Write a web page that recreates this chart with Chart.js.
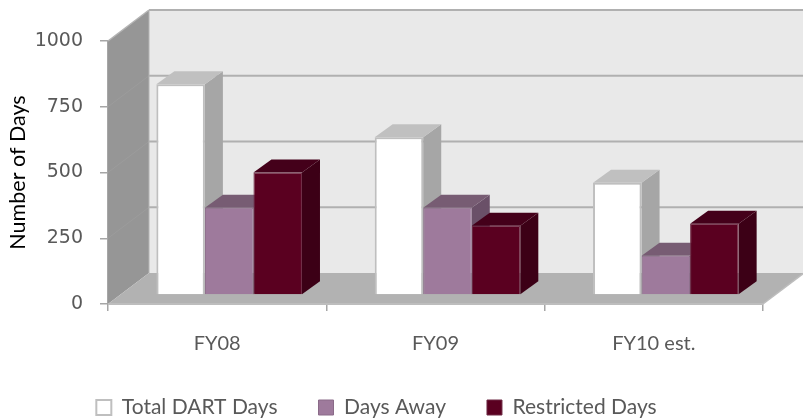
<!DOCTYPE html>
<html>
<head>
<meta charset="utf-8">
<style>
  html, body { margin: 0; padding: 0; background: #fff; }
  #wrap { width: 803px; height: 418px; }
</style>
<script src="https://cdn.jsdelivr.net/npm/chart.js@4/dist/chart.umd.min.js"></script>
</head>
<body>
<div id="wrap"><canvas id="myChart"></canvas></div>
<script>
const categories = ["FY08", "FY09", "FY10 est."];
const totalDart = [801, 600, 427];
const daysAway = [332, 332, 149];
const restricted = [466, 263, 271];
const yTicks = [0, 250, 500, 750, 1000];

// fake 3D: how far the walls go back, and where the bars stand on the floor
const wallDx = 41, wallDy = -31;
const barDx = 12, barDy = -9;
const depthDx = 18, depthDy = -13;

const sideColors = ["#a6a6a6", "#6a5068", "#3c0016"];
const topColors = ["#c0c0c0", "#775c73", "#44001a"];

function poly(ctx, pts, fill) {
  ctx.beginPath();
  pts.forEach((p, i) => i ? ctx.lineTo(p[0], p[1]) : ctx.moveTo(p[0], p[1]));
  ctx.closePath();
  ctx.fillStyle = fill;
  ctx.fill();
}

function line(ctx, x1, y1, x2, y2, color, w) {
  ctx.beginPath();
  ctx.moveTo(x1, y1);
  ctx.lineTo(x2, y2);
  ctx.strokeStyle = color;
  ctx.lineWidth = w;
  ctx.stroke();
}

const walls = {
  id: "walls",
  afterLayout(chart) {
    // legend sits a little left of centre in the original
    chart.legend.left -= 5;
    chart.legend.right -= 5;
  },
  beforeDatasetsDraw(chart) {
    const ctx = chart.ctx, a = chart.chartArea, y = chart.scales.y;
    const r = chart.width + 5;
    ctx.save();
    // back wall, left wall, floor
    poly(ctx, [[a.left + wallDx, a.top + wallDy], [r, a.top + wallDy], [r, a.bottom + wallDy], [a.left + wallDx, a.bottom + wallDy]], "#e9e9e9");
    poly(ctx, [[a.left, a.top], [a.left + wallDx, a.top + wallDy], [a.left + wallDx, a.bottom + wallDy], [a.left, a.bottom]], "#969696");
    poly(ctx, [[a.left, a.bottom], [a.left + wallDx, a.bottom + wallDy], [r, a.bottom + wallDy], [a.right + wallDx, a.bottom + wallDy], [a.right, a.bottom]], "#b2b2b2");
    yTicks.forEach(v => {
      const py = y.getPixelForValue(v);
      if (v > 0) line(ctx, a.left + wallDx, py + wallDy, r, py + wallDy, "#b0b0b0", 2);
      if (v > 0 && v < 1000) line(ctx, a.left, py, a.left + wallDx, py + wallDy, "#9c9c9c", 1);
    });
    line(ctx, a.left, a.top, a.left + wallDx, a.top + wallDy, "#b4b4b4", 1.5);
    line(ctx, a.left + wallDx, a.top + wallDy, a.left + wallDx, a.bottom + wallDy, "#b4b4b4", 1);
    line(ctx, a.left, a.bottom, a.right, a.bottom, "#bdbdbd", 2);
    line(ctx, a.right, a.bottom, a.right + wallDx, a.bottom + wallDy, "#bdbdbd", 1.5);

    // bars left to right so each one covers the side of the one before it
    chart.data.datasets.forEach((ds, i) => {
      const meta = chart.getDatasetMeta(i);
      meta.data.forEach(bar => {
        const p = bar.getProps(["x", "y", "base", "width"], true);
        const l = p.x - p.width / 2 + barDx, rr = p.x + p.width / 2 + barDx;
        const t = p.y + barDy, b = p.base + barDy;
        poly(ctx, [[rr, t], [rr + depthDx, t + depthDy], [rr + depthDx, b + depthDy], [rr, b]], sideColors[i]);
        poly(ctx, [[l, t], [l + depthDx, t + depthDy], [rr + depthDx, t + depthDy], [rr, t]], topColors[i]);
      });
      ctx.save();
      ctx.translate(barDx, barDy);
      meta.controller.draw();
      ctx.restore();
    });
    ctx.restore();
    return false;
  }
};

new Chart(document.getElementById("myChart"), {
  type: "bar",
  data: {
    labels: categories,
    datasets: [
      { label: "Total DART Days", data: totalDart, backgroundColor: "#ffffff", borderColor: "#bfbfbf", borderWidth: 2 },
      { label: "Days Away", data: daysAway, backgroundColor: "#9e7a9c", borderColor: "#8a6a88", borderWidth: 1 },
      { label: "Restricted Days", data: restricted, backgroundColor: "#5a0020", borderColor: "#6e2a44", borderWidth: 1 }
    ]
  },
  options: {
    responsive: true,
    maintainAspectRatio: false,
    animation: false,
    layout: { padding: { top: 41, right: 40, left: 0, bottom: 0 } },
    datasets: { bar: { categoryPercentage: 0.667, barPercentage: 1 } },
    scales: {
      x: {
        afterFit(s) { s.height = 52; },
        grid: { drawOnChartArea: false, color: "#a6a6a6", tickLength: 7, lineWidth: 1.5 },
        border: { display: false },
        ticks: { color: "#595959", padding: 21, maxRotation: 0, font: { family: "Lato", size: 20 } }
      },
      y: {
        min: 0,
        max: 1000,
        afterBuildTicks(s) { s.ticks = yTicks.map(v => ({ value: v })); },
        afterFit(s) { s.width = 108; },
        grid: { drawOnChartArea: false, color: "#a6a6a6", tickLength: 8, lineWidth: 1.5 },
        border: { color: "#a6a6a6", width: 1.5 },
        ticks: { color: "#595959", padding: 17, callback: v => String(v), font: { family: "DejaVu Sans", size: 19 } },
        title: { display: true, text: "Number of Days", color: "#000000", padding: { top: 5, bottom: 0 }, font: { family: "Lato", size: 21.5 } }
      }
    },
    plugins: {
      tooltip: { enabled: false },
      legend: {
        position: "bottom",
        maxHeight: 62,
        labels: {
          color: "#595959",
          padding: 41,
          boxWidth: 15,
          boxHeight: 15,
          font: { family: "Lato", size: 21 }
        }
      }
    }
  },
  plugins: [walls]
});
</script>
</body>
</html>
